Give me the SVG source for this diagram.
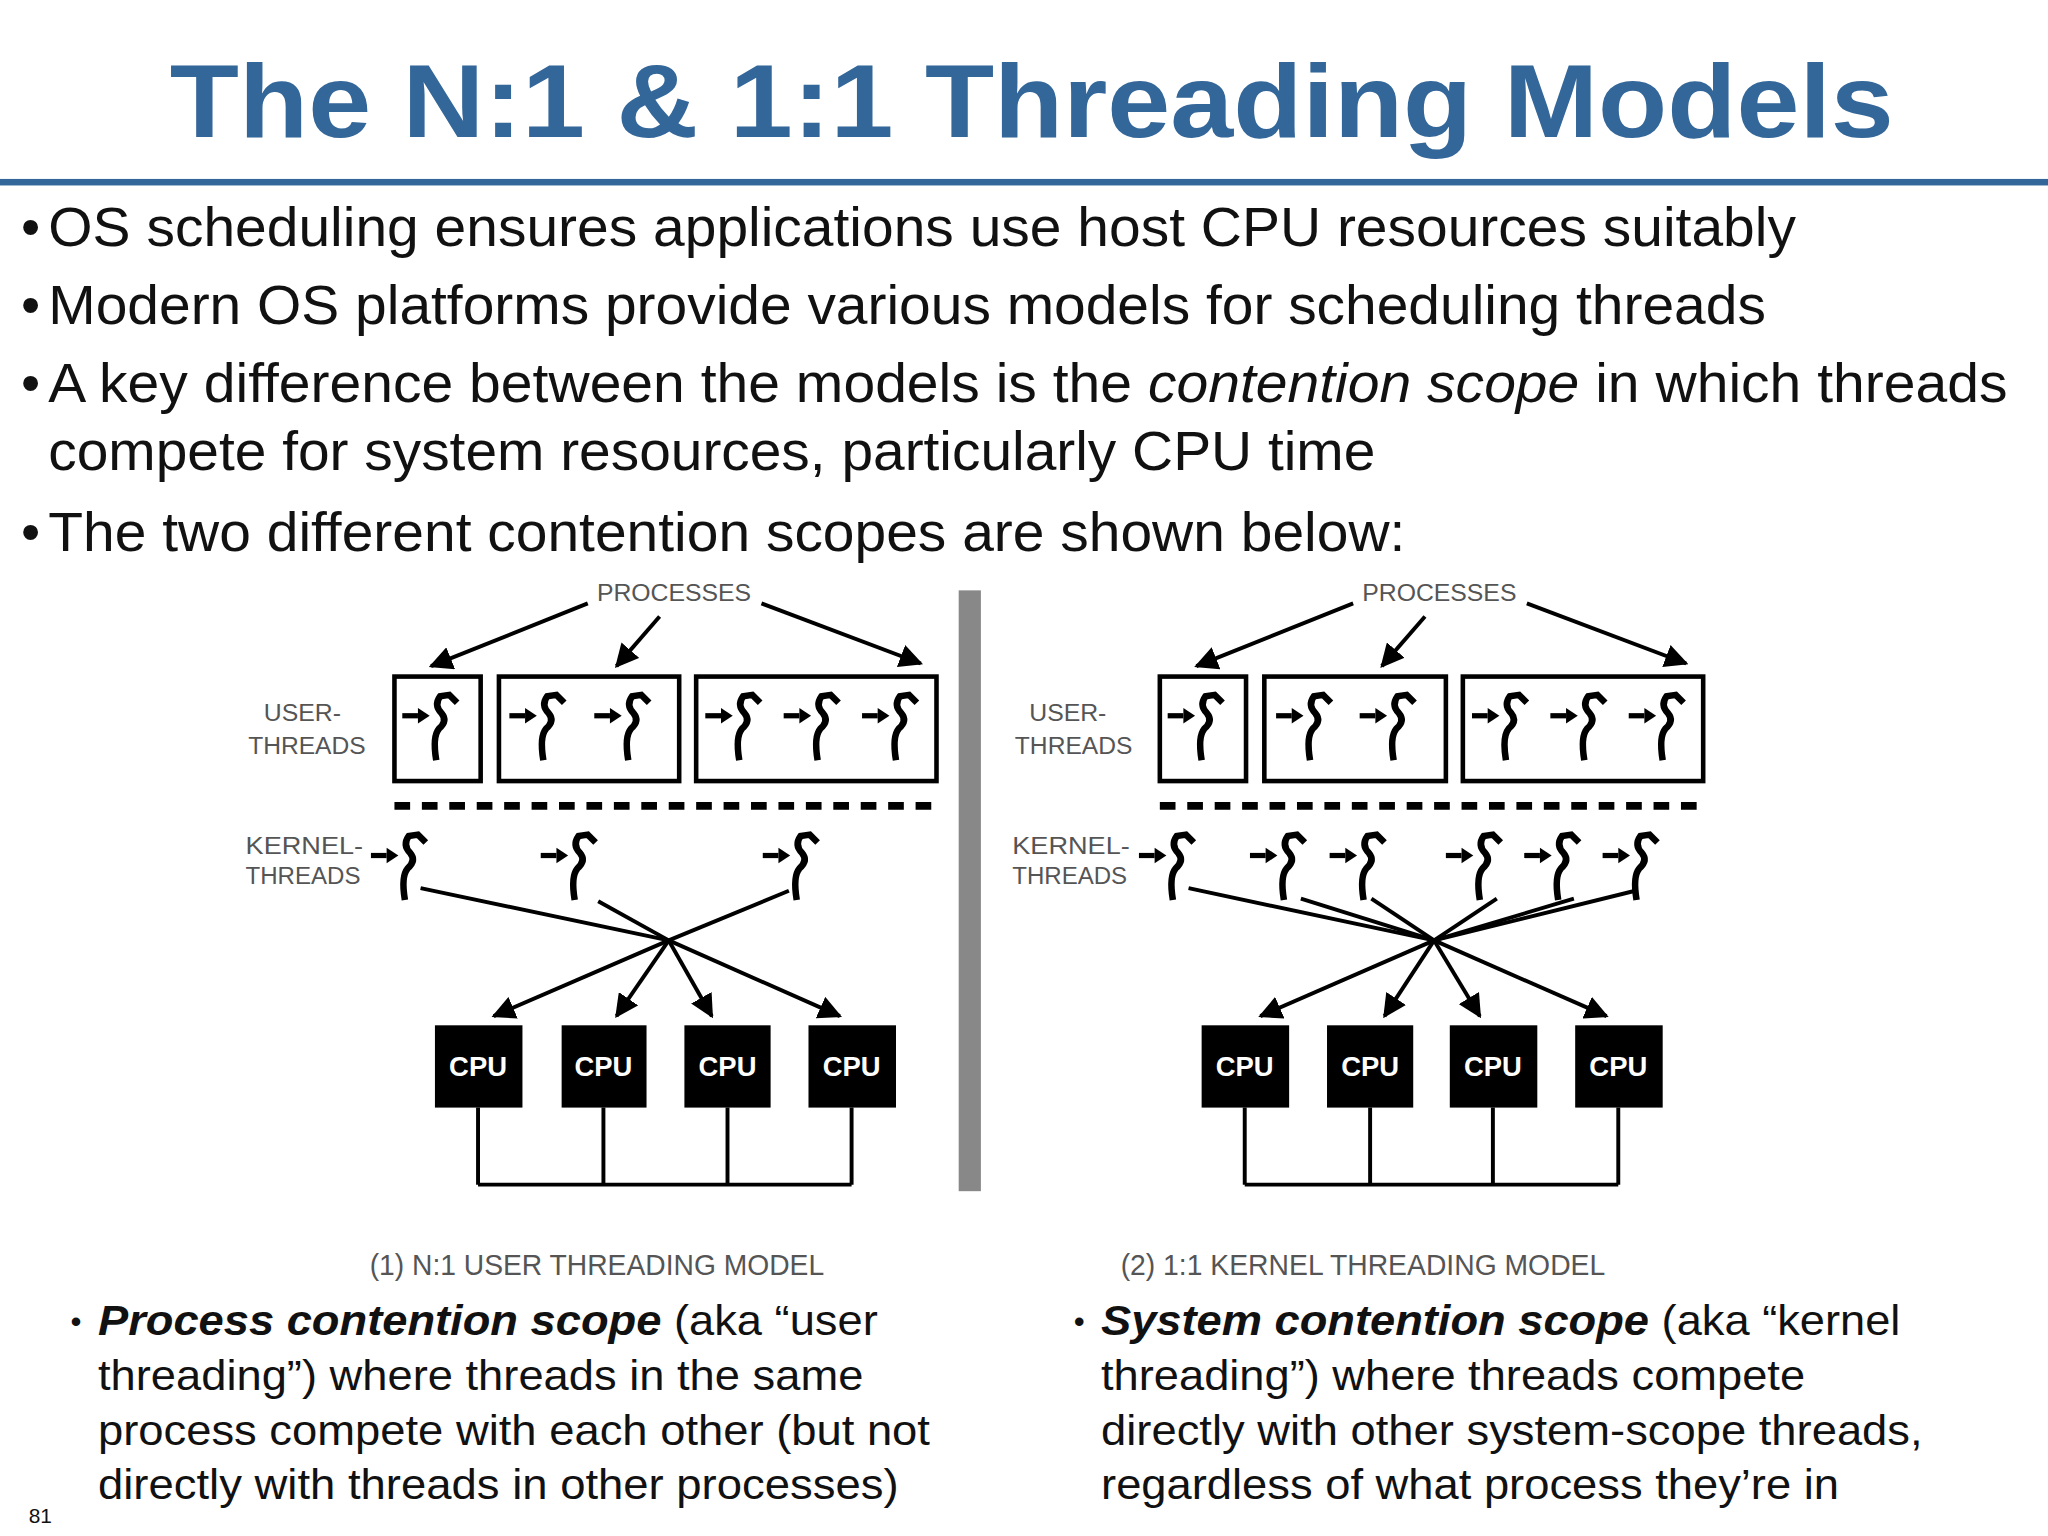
<svg xmlns="http://www.w3.org/2000/svg" xmlns:xlink="http://www.w3.org/1999/xlink" width="2048" height="1536" viewBox="0 0 2048 1536">
<style>
.t{font-family:"Liberation Sans",Arial,sans-serif}
.title{font-size:80px;font-weight:bold;fill:#336699}
.b{font-size:42px;fill:#111}
.s{font-size:33px;fill:#111}
.lab{font-size:19px;fill:#555}
.cap{font-size:22px;fill:#555}
.cpu{font-size:21px;fill:#fff;font-weight:bold}
.ln{stroke:#000;stroke-width:3;fill:none}
.box{stroke:#000;stroke-width:3.5;fill:#fff}
</style>
<defs>
<marker id="ah" viewBox="0 0 10 10" refX="9" refY="5" markerWidth="6" markerHeight="6" orient="auto"><path d="M0,0 L10,5 L0,10 z" fill="#000"/></marker>
<g id="th">
<line x1="0" y1="0" x2="12" y2="0" stroke="#000" stroke-width="4"/>
<path d="M12,-6 L21,0 L12,6 z" fill="#000"/>
<path d="M42,-10 L36,-16 L29,-15 Q24,-8 30,-2 Q35,4 28,10 Q23,16 26,34" stroke="#000" stroke-width="5" fill="none"/>
</g>
</defs>
<rect width="2048" height="1536" fill="#fff"/>
<g transform="scale(1.30612)">
<g id="title">
<text class="t title" x="130" y="105" textLength="1320" lengthAdjust="spacingAndGlyphs">The N:1 &amp; 1:1 Threading Models</text>
<rect x="0" y="137" width="1568" height="5" fill="#336699"/>
</g>
<g id="bullets" class="t b">
<text x="16" y="188">•</text><text x="37" y="188" textLength="1338" lengthAdjust="spacingAndGlyphs">OS scheduling ensures applications use host CPU resources suitably</text>
<text x="16" y="248">•</text><text x="37" y="248" textLength="1315" lengthAdjust="spacingAndGlyphs">Modern OS platforms provide various models for scheduling threads</text>
<text x="16" y="308">•</text><text x="37" y="308" textLength="1500" lengthAdjust="spacingAndGlyphs">A key difference between the models is the <tspan font-style="italic">contention scope</tspan> in which threads</text>
<text x="37" y="360" textLength="1016" lengthAdjust="spacingAndGlyphs">compete for system resources, particularly CPU time</text>
<text x="16" y="422">•</text><text x="37" y="422" textLength="1039" lengthAdjust="spacingAndGlyphs">The two different contention scopes are shown below:</text>
</g>
<rect id="divider" x="734" y="452" width="17" height="460" fill="#888"/>
<g id="left">
<text class="t lab" x="457" y="460" textLength="118" lengthAdjust="spacingAndGlyphs">PROCESSES</text>
<text class="t lab" x="202" y="552">USER-</text>
<text class="t lab" x="190" y="577" textLength="90" lengthAdjust="spacingAndGlyphs">THREADS</text>
<text class="t lab" x="188" y="654" textLength="90" lengthAdjust="spacingAndGlyphs">KERNEL-</text>
<text class="t lab" x="188" y="677" textLength="88" lengthAdjust="spacingAndGlyphs">THREADS</text>
<rect class="box" x="302" y="518" width="66" height="80"/>
<rect class="box" x="382" y="518" width="138" height="80"/>
<rect class="box" x="533" y="518" width="184" height="80"/>
<use href="#th" x="308" y="548"/>
<use href="#th" x="390" y="548"/><use href="#th" x="455" y="548"/>
<use href="#th" x="540" y="548"/><use href="#th" x="600" y="548"/><use href="#th" x="660" y="548"/>
<line x1="302" y1="617" x2="717" y2="617" stroke="#000" stroke-width="6" stroke-dasharray="12 9"/>
<use href="#th" x="284" y="655"/><use href="#th" x="414" y="655"/><use href="#th" x="584" y="655"/>
<rect x="333" y="785" width="67" height="63" fill="#000"/><text class="t cpu" x="366" y="824" text-anchor="middle">CPU</text>
<rect x="430" y="785" width="65" height="63" fill="#000"/><text class="t cpu" x="462" y="824" text-anchor="middle">CPU</text>
<rect x="524" y="785" width="66" height="63" fill="#000"/><text class="t cpu" x="557" y="824" text-anchor="middle">CPU</text>
<rect x="619" y="785" width="67" height="63" fill="#000"/><text class="t cpu" x="652" y="824" text-anchor="middle">CPU</text>
<text class="t cap" x="283" y="976" textLength="348" lengthAdjust="spacingAndGlyphs">(1) N:1 USER THREADING MODEL</text>
</g>
<g id="right">
<text class="t lab" x="1043" y="460" textLength="118" lengthAdjust="spacingAndGlyphs">PROCESSES</text>
<text class="t lab" x="788" y="552">USER-</text>
<text class="t lab" x="777" y="577" textLength="90" lengthAdjust="spacingAndGlyphs">THREADS</text>
<text class="t lab" x="775" y="654" textLength="90" lengthAdjust="spacingAndGlyphs">KERNEL-</text>
<text class="t lab" x="775" y="677" textLength="88" lengthAdjust="spacingAndGlyphs">THREADS</text>
<rect class="box" x="888" y="518" width="66" height="80"/>
<rect class="box" x="968" y="518" width="139" height="80"/>
<rect class="box" x="1120" y="518" width="184" height="80"/>
<use href="#th" x="894" y="548"/>
<use href="#th" x="977" y="548"/><use href="#th" x="1041" y="548"/>
<use href="#th" x="1127" y="548"/><use href="#th" x="1187" y="548"/><use href="#th" x="1247" y="548"/>
<line x1="888" y1="617" x2="1304" y2="617" stroke="#000" stroke-width="6" stroke-dasharray="12 9"/>
<use href="#th" x="872" y="655"/><use href="#th" x="957" y="655"/><use href="#th" x="1018" y="655"/>
<use href="#th" x="1107" y="655"/><use href="#th" x="1167" y="655"/><use href="#th" x="1227" y="655"/>
<rect x="920" y="785" width="67" height="63" fill="#000"/><text class="t cpu" x="953" y="824" text-anchor="middle">CPU</text>
<rect x="1016" y="785" width="66" height="63" fill="#000"/><text class="t cpu" x="1049" y="824" text-anchor="middle">CPU</text>
<rect x="1110" y="785" width="67" height="63" fill="#000"/><text class="t cpu" x="1143" y="824" text-anchor="middle">CPU</text>
<rect x="1206" y="785" width="67" height="63" fill="#000"/><text class="t cpu" x="1239" y="824" text-anchor="middle">CPU</text>
<text class="t cap" x="858" y="976" textLength="371" lengthAdjust="spacingAndGlyphs">(2) 1:1 KERNEL THREADING MODEL</text>
</g>
<g id="connectors">
<line class="ln" x1="450" y1="462" x2="330" y2="510" marker-end="url(#ah)"/>
<line class="ln" x1="505" y1="472" x2="472" y2="510" marker-end="url(#ah)"/>
<line class="ln" x1="583" y1="462" x2="705" y2="508" marker-end="url(#ah)"/>
<line class="ln" x1="322" y1="680" x2="512" y2="720"/>
<line class="ln" x1="458" y1="690" x2="512" y2="720"/>
<line class="ln" x1="604" y1="682" x2="512" y2="720"/>
<line class="ln" x1="512" y1="720" x2="378" y2="778" marker-end="url(#ah)"/>
<line class="ln" x1="512" y1="720" x2="472" y2="778" marker-end="url(#ah)"/>
<line class="ln" x1="512" y1="720" x2="545" y2="778" marker-end="url(#ah)"/>
<line class="ln" x1="512" y1="720" x2="643" y2="778" marker-end="url(#ah)"/>
<path class="ln" d="M366,848 V907 M462,848 V907 M557,848 V907 M652,848 V907 M366,907 H652"/>
<line class="ln" x1="1036" y1="462" x2="916" y2="510" marker-end="url(#ah)"/>
<line class="ln" x1="1091" y1="472" x2="1058" y2="510" marker-end="url(#ah)"/>
<line class="ln" x1="1169" y1="462" x2="1291" y2="508" marker-end="url(#ah)"/>
<line class="ln" x1="910" y1="680" x2="1098" y2="720"/>
<line class="ln" x1="996" y1="688" x2="1098" y2="720"/>
<line class="ln" x1="1050" y1="688" x2="1098" y2="720"/>
<line class="ln" x1="1146" y1="688" x2="1098" y2="720"/>
<line class="ln" x1="1205" y1="688" x2="1098" y2="720"/>
<line class="ln" x1="1252" y1="682" x2="1098" y2="720"/>
<line class="ln" x1="1098" y1="720" x2="965" y2="778" marker-end="url(#ah)"/>
<line class="ln" x1="1098" y1="720" x2="1060" y2="778" marker-end="url(#ah)"/>
<line class="ln" x1="1098" y1="720" x2="1133" y2="778" marker-end="url(#ah)"/>
<line class="ln" x1="1098" y1="720" x2="1230" y2="778" marker-end="url(#ah)"/>
<path class="ln" d="M953,848 V907 M1049,848 V907 M1143,848 V907 M1239,848 V907 M953,907 H1239"/>
</g>
<g id="notes" class="t s">
<text x="54" y="1020" font-size="24">•</text>
<text x="75" y="1022" textLength="597" lengthAdjust="spacingAndGlyphs"><tspan font-weight="bold" font-style="italic">Process contention scope</tspan> (aka “user</text>
<text x="75" y="1064" textLength="586" lengthAdjust="spacingAndGlyphs">threading”) where threads in the same</text>
<text x="75" y="1106" textLength="637" lengthAdjust="spacingAndGlyphs">process compete with each other (but not</text>
<text x="75" y="1148" textLength="613" lengthAdjust="spacingAndGlyphs">directly with threads in other processes)</text>
<text x="822" y="1020" font-size="24">•</text>
<text x="843" y="1022" textLength="612" lengthAdjust="spacingAndGlyphs"><tspan font-weight="bold" font-style="italic">System contention scope</tspan> (aka “kernel</text>
<text x="843" y="1064" textLength="539" lengthAdjust="spacingAndGlyphs">threading”) where threads compete</text>
<text x="843" y="1106" textLength="629" lengthAdjust="spacingAndGlyphs">directly with other system-scope threads,</text>
<text x="843" y="1148" textLength="565" lengthAdjust="spacingAndGlyphs">regardless of what process they’re in</text>
<text x="22" y="1166" font-size="16">81</text>
</g>
</g>
</svg>
